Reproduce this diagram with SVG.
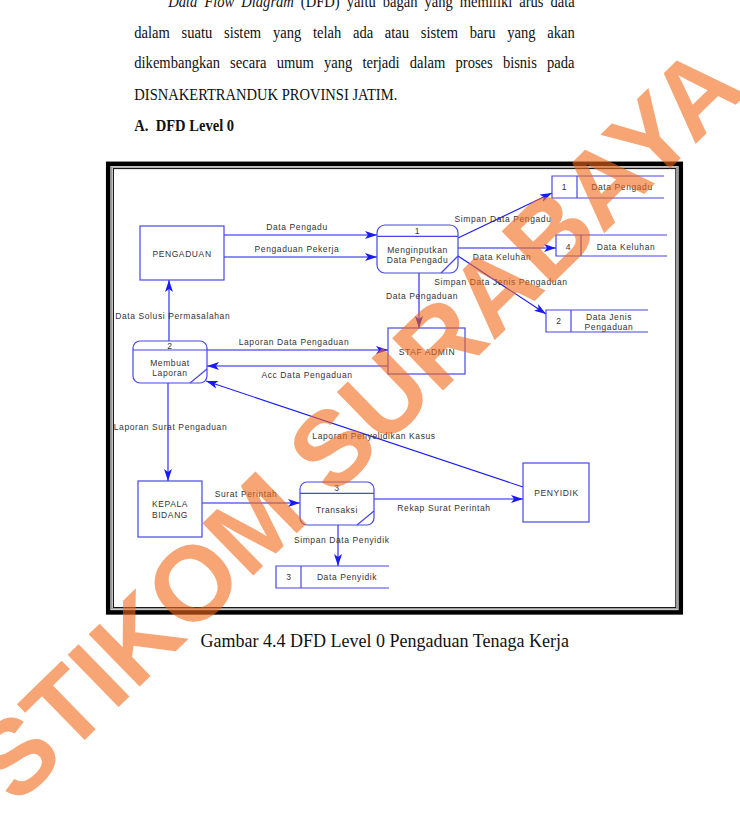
<svg xmlns="http://www.w3.org/2000/svg" width="740" height="818" viewBox="0 0 740 818">
<style>
.body{font-family:"Liberation Serif","Times New Roman",serif;font-size:16px;fill:#111}
.shape{fill:#fff;stroke:#4646e6;stroke-width:1.2}
.sline{fill:none;stroke:#4646e6;stroke-width:1.2}
.conn{fill:none;stroke:#1a1af5;stroke-width:1.1;marker-end:url(#arr)}
.lbl{font-family:"Liberation Sans",Arial,sans-serif;font-size:8.5px;letter-spacing:0.6px;fill:#333;text-anchor:middle}
.wm{font-family:"Liberation Sans",Arial,sans-serif;font-size:106px;font-weight:bold;fill:#f26a1b;opacity:0.6}
</style>
<defs>
<marker id="arr" markerUnits="userSpaceOnUse" markerWidth="13" markerHeight="9" refX="12" refY="4.5" orient="auto" viewBox="0 0 13 9">
<path d="M0,0.5 L12,4.5 L0,8.5 L3,4.5 z" fill="#1a1af5"/>
</marker>
</defs>
<rect width="740" height="818" fill="#fff"/>

<g id="paragraph" class="body">
<text transform="translate(168.3,7) scale(0.91,1)" word-spacing="3.7"><tspan font-style="italic">Data Flow Diagram</tspan> (DFD) yaitu bagan yang memiliki arus data</text>
<text transform="translate(134.3,37.7) scale(0.91,1)" word-spacing="8.9">dalam suatu sistem yang telah ada atau sistem baru yang akan</text>
<text transform="translate(134.3,68.3) scale(0.91,1)" word-spacing="7.2">dikembangkan secara umum yang terjadi dalam proses bisnis pada</text>
<text transform="translate(134.3,100) scale(0.91,1)">DISNAKERTRANDUK PROVINSI JATIM.</text>
<text transform="translate(134.3,130.7) scale(0.91,1)" font-weight="bold" xml:space="preserve">A.  DFD Level 0</text>
</g>

<g id="frame" fill="none">
<rect x="108.2" y="163.8" width="572.6" height="448.6" stroke="#000" stroke-width="4.5"/>
<rect x="111.7" y="167.1" width="565.6" height="441.8" stroke="#999" stroke-width="1.3"/>
<rect x="113.4" y="168.6" width="562.4" height="439" stroke="#000" stroke-width="1"/>
</g>

<g id="connectors">
<line class="conn" x1="224" y1="235" x2="377" y2="235"/>
<line class="conn" x1="224" y1="257" x2="377" y2="257"/>
<line class="conn" x1="458" y1="238" x2="552" y2="193"/>
<line class="conn" x1="458" y1="248" x2="556" y2="248"/>
<line class="conn" x1="458" y1="256" x2="546" y2="314"/>
<line class="conn" x1="419" y1="273" x2="419" y2="328"/>
<line class="conn" x1="169" y1="341" x2="169" y2="280"/>
<line class="conn" x1="207" y1="350" x2="388" y2="350"/>
<line class="conn" x1="388" y1="366" x2="207" y2="366"/>
<line class="conn" x1="523" y1="487" x2="206" y2="381"/>
<line class="conn" x1="168" y1="383" x2="168" y2="481"/>
<line class="conn" x1="202" y1="503" x2="300" y2="503"/>
<line class="conn" x1="374" y1="499" x2="523" y2="499"/>
<line class="conn" x1="338" y1="525" x2="338" y2="566"/>
<text class="lbl" x="297" y="230">Data Pengadu</text>
<text class="lbl" x="297" y="251.5">Pengaduan Pekerja</text>
<text class="lbl" x="503" y="222">Simpan Data Pengadu</text>
<text class="lbl" x="502" y="259.5">Data Keluhan</text>
<text class="lbl" x="501" y="285">Simpan Data Jenis Pengaduan</text>
<text class="lbl" x="422" y="298.5">Data Pengaduan</text>
<text class="lbl" x="172.7" y="319">Data Solusi Permasalahan</text>
<text class="lbl" x="294" y="344.5">Laporan Data Pengaduan</text>
<text class="lbl" x="307" y="378">Acc Data Pengaduan</text>
<text class="lbl" x="374" y="438.5">Laporan Penyelidikan Kasus</text>
<text class="lbl" x="170.5" y="429.5">Laporan Surat Pengaduan</text>
<text class="lbl" x="246" y="497">Surat Perintah</text>
<text class="lbl" x="444" y="511">Rekap Surat Perintah</text>
<text class="lbl" x="341.7" y="543">Simpan Data Penyidik</text>
</g>

<g id="pengaduan">
<rect class="shape" x="140" y="226" width="84" height="54"/>
<text class="lbl" x="182" y="257">PENGADUAN</text>
</g>

<g id="proses1">
<rect class="shape" x="377" y="225" width="81" height="48" rx="8"/>
<line class="sline" x1="377" y1="236.3" x2="458" y2="236.3"/>
<line class="sline" x1="441" y1="273" x2="458" y2="256"/>
<text class="lbl" x="417.5" y="234">1</text>
<text class="lbl" x="417.5" y="253">Menginputkan</text>
<text class="lbl" x="417.5" y="263">Data Pengadu</text>
</g>

<g id="staf-admin">
<rect class="shape" x="388" y="328" width="77" height="46"/>
<text class="lbl" x="427" y="355">STAF ADMIN</text>
</g>

<g id="store1">
<path class="sline" d="M664,176 H552 V198 H664 M577,176 V198"/>
<text class="lbl" x="564.5" y="190">1</text>
<text class="lbl" x="622" y="190">Data Pengadu</text>
</g>

<g id="store4">
<path class="sline" d="M667,235 H556 V256 H667 M581,235 V256"/>
<text class="lbl" x="568.5" y="249.5">4</text>
<text class="lbl" x="626" y="249.5">Data Keluhan</text>
</g>

<g id="store2">
<path class="sline" d="M648,310 H546 V332 H648 M571,310 V332"/>
<text class="lbl" x="559" y="324">2</text>
<text class="lbl" x="609" y="319.5">Data Jenis</text>
<text class="lbl" x="609" y="329.5">Pengaduan</text>
</g>

<g id="proses2">
<rect class="shape" x="133" y="341" width="74" height="42" rx="7"/>
<line class="sline" x1="133" y1="350" x2="207" y2="350"/>
<line class="sline" x1="190" y1="383" x2="207" y2="369"/>
<text class="lbl" x="170" y="348.5">2</text>
<text class="lbl" x="170" y="365.5">Membuat</text>
<text class="lbl" x="170" y="376">Laporan</text>
</g>

<g id="kepala-bidang">
<rect class="shape" x="138" y="481" width="64" height="56"/>
<text class="lbl" x="170" y="507">KEPALA</text>
<text class="lbl" x="170" y="518">BIDANG</text>
</g>

<g id="proses3">
<rect class="shape" x="300" y="482" width="74" height="43" rx="7"/>
<line class="sline" x1="300" y1="493.3" x2="374" y2="493.3"/>
<line class="sline" x1="357" y1="525" x2="374" y2="511"/>
<text class="lbl" x="337" y="490.5">3</text>
<text class="lbl" x="337" y="512.5">Transaksi</text>
</g>

<g id="penyidik">
<rect class="shape" x="523" y="463" width="66" height="59"/>
<text class="lbl" x="556.5" y="496">PENYIDIK</text>
</g>

<g id="store3">
<path class="sline" d="M389,566 H276 V588 H389 M301,566 V588"/>
<text class="lbl" x="289" y="580">3</text>
<text class="lbl" x="347" y="580">Data Penyidik</text>
</g>

<g id="caption" class="body">
<text transform="translate(200.5,646.7) scale(0.91,1)" font-size="19.5" textLength="405" lengthAdjust="spacingAndGlyphs">Gambar 4.4 DFD Level 0 Pengaduan Tenaga Kerja</text>
</g>

<g id="watermark">
<text class="wm" x="382.5" y="449.5" text-anchor="middle" transform="rotate(-44.3 382.5 449.5)">STIKOM SURABAYA</text>
</g>
</svg>
